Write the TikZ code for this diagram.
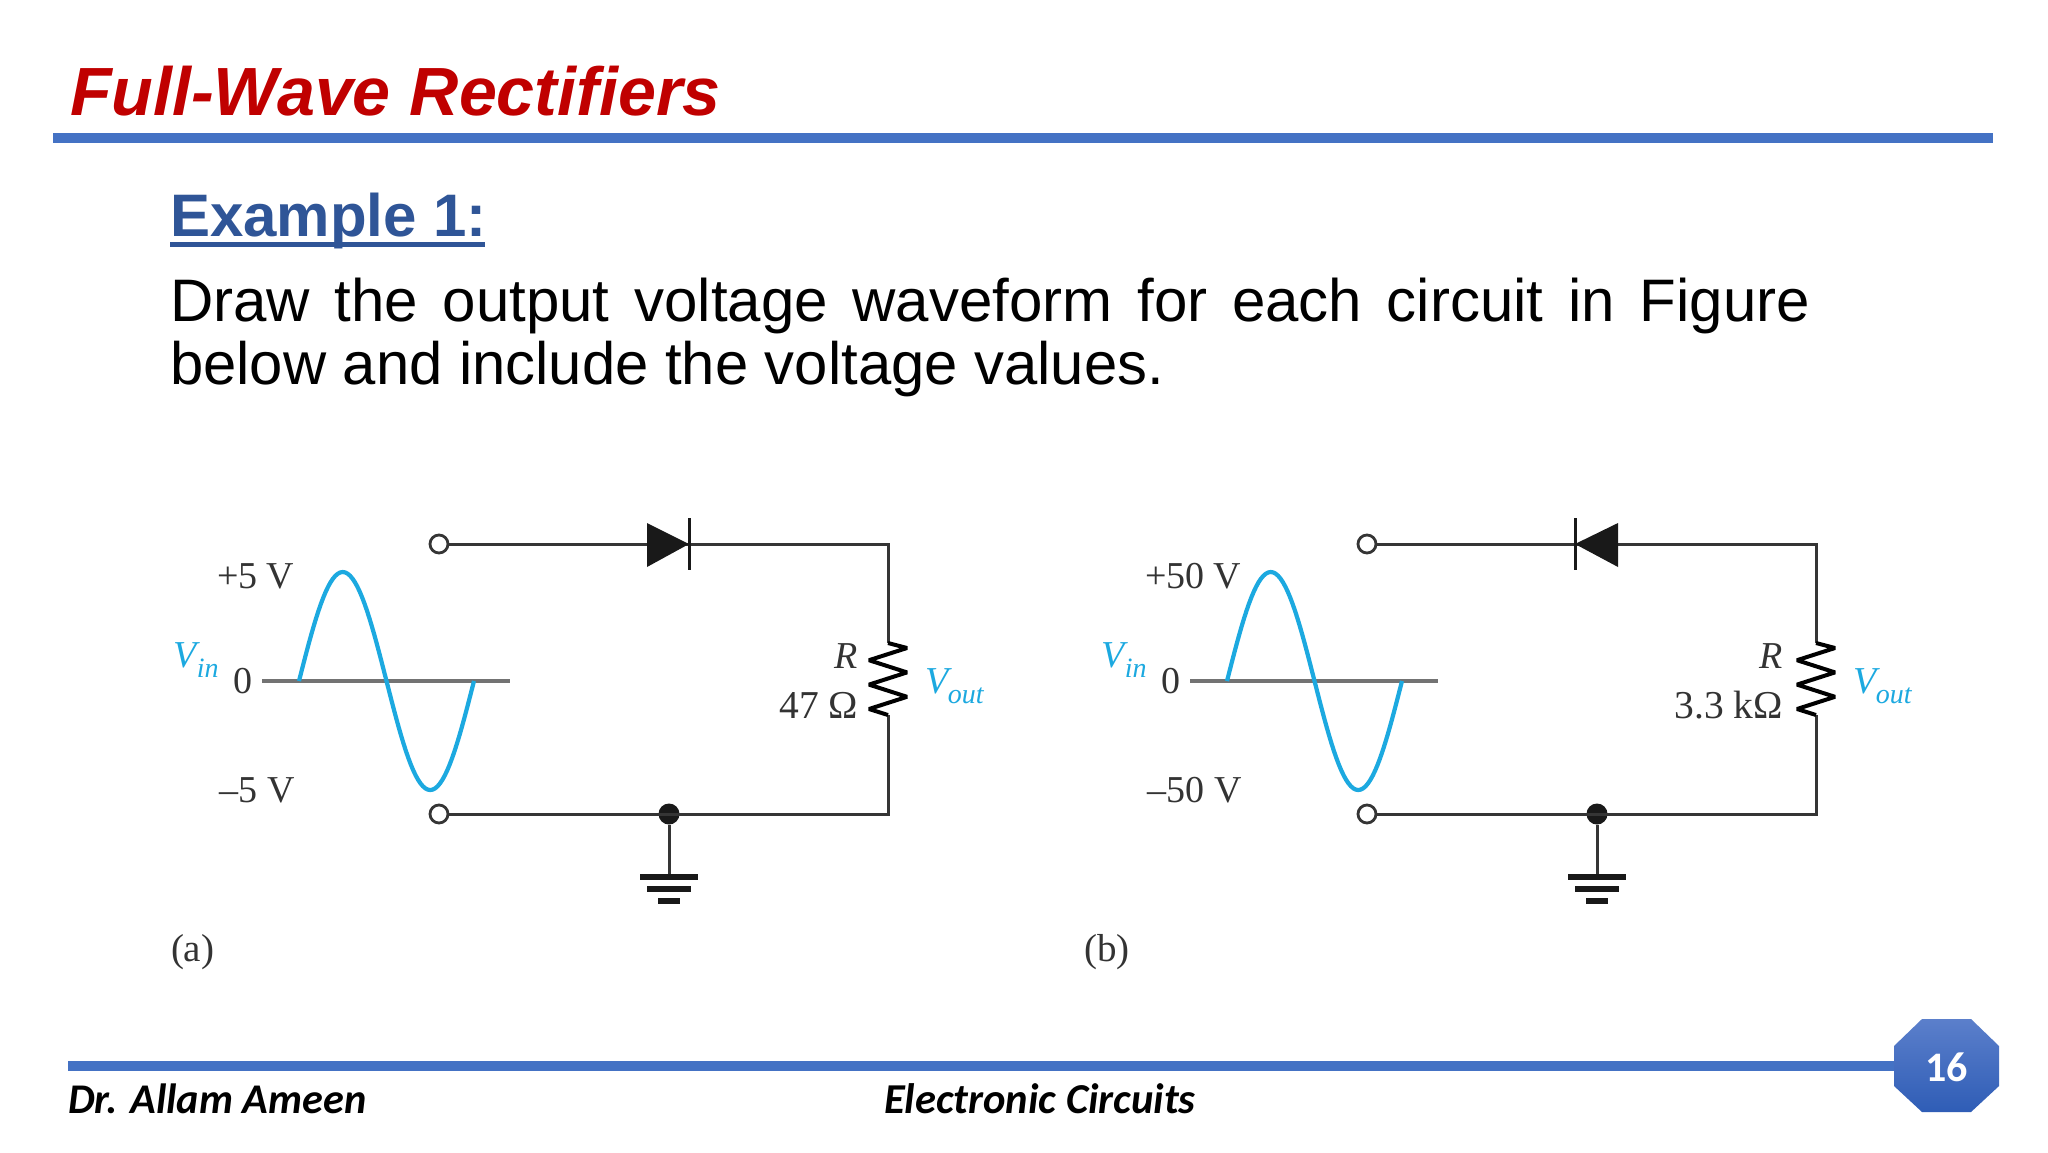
\documentclass[tikz,border=0pt]{standalone}
\usepackage{fontspec}
\setmainfont{Liberation Sans}
\newfontfamily\timesf{Liberation Serif}
\newfontfamily\carl{Carlito}
\usetikzlibrary{calc}
\definecolor{rulebl}{HTML}{4472C4}
\definecolor{titlered}{HTML}{C00000}
\definecolor{exbl}{HTML}{2F5597}
\definecolor{wavecy}{HTML}{1CA9E0}
\definecolor{wirec}{HTML}{353535}
\definecolor{octtop}{HTML}{5B7FCB}
\definecolor{octbot}{HTML}{2F5DB6}
\newcommand\fsz[1]{\fontsize{#1pt}{#1pt}\selectfont}
\tikzset{
  lab/.style={inner sep=0pt,outer sep=0pt,anchor=base west},
  labr/.style={inner sep=0pt,outer sep=0pt,anchor=base east},
  circ/.style={font=\timesf\fsz{38},text=black!80},
  vlab/.style={font=\timesf\fsz{38},text=wavecy},
  wire/.style={draw=wirec,line width=3pt,line join=miter},
  term/.style={circle,draw=wirec,fill=white,line width=2.8pt,minimum size=18pt,inner sep=0pt},
  dotj/.style={circle,fill=black!90,minimum size=21pt,inner sep=0pt},
  wave/.style={draw=wavecy,line width=4.2pt,line join=round},
  axisl/.style={draw=black!55,line width=4pt},
  plate/.style={draw=black!90,line width=6pt},
}
% prefix, shift, triangle base x, bar x, +label, -label, value, value right x
\newcommand\ckt[8]{%
\begin{scope}[shift={(#2,0)}]
  \node[term] (#1top) at (439,544) {};
  \node[term] (#1bot) at (439,814) {};
  \coordinate (#1tr) at (888,544);
  \coordinate (#1br) at (888,814);
  \coordinate (#1rt) at (888,643);
  \coordinate (#1rb) at (888,715);
  \coordinate (#1gnd) at (669,877);
  \node[dotj] (#1dot) at (669,814) {};
  \draw[wire] (#1top) -- (#1tr) -- (#1rt);
  \draw[wire] (#1bot) -- (#1br) -- (#1rb);
  \draw[wire] (#1dot) -- (#1gnd);
  \fill[black!90] (#3,523) -- (#4,544) -- (#3,567) -- cycle;
  \draw[black!90,line width=3pt] (#4,518) -- (#4,570);
  \draw[black,line width=4pt,line join=bevel] (#1rt) -- ++(19,5) -- ++(-38,12.2) -- ++(38,12.2) -- ++(-38,12.2) -- ++(38,12.2) -- ++(-38,12.2) -- (#1rb);
  \draw[plate] ($(#1gnd)+(-29,0)$) -- ($(#1gnd)+(29,0)$);
  \draw[plate] ($(#1gnd)+(-22,12)$) -- ($(#1gnd)+(22,12)$);
  \draw[plate] ($(#1gnd)+(-11,24)$) -- ($(#1gnd)+(11,24)$);
  \draw[axisl] (262,681) -- (510,681);
  \draw[wave] plot[domain=0:360,samples=73] ({299+\x/360*175},{681-109*sin(\x)});
  \node[lab,circ] (#1hi) at (217,588) {#5};
  \node[lab,circ] (#1lo) at (219.5,802) {#6};
  \node[lab,circ] (#1zero) at (233,693) {0};
  \node[lab,vlab] (#1vin) at (173,667) {\textit{V}\kern-3pt\raisebox{-10pt}{\fsz{28}\textit{in}}};
  \node[lab,vlab] (#1vout) at (925,693) {\textit{V}\kern-4pt\raisebox{-10pt}{\fsz{28}\textit{out}}};
  \node[labr,circ] (#1r) at (#8,668) {\textit{R}};
  \node[labr,circ,font=\timesf\fsz{39.5}] (#1val) at (#8,718) {#7};
\end{scope}}
\begin{document}
\begin{tikzpicture}[x=1pt,y=-1pt]
\useasboundingbox[fill=white] (0,0) rectangle (2048,1152);
% header
\node[lab,font=\bfseries\itshape\fsz{68.2},text=titlered] (title) at (70,115) {Full-Wave Rectifiers};
\fill[rulebl] (53,133) rectangle (1993,143);
\node[lab,font=\bfseries\fsz{60},text=exbl] (ex) at (170,236) {Example 1:};
\fill[exbl] (169.5,242) rectangle (485,247);
\node[lab,font=\fsz{60},text=black] (body) at (170,321) {\makebox[1640pt][s]{Draw the output voltage waveform for each circuit in Figure}};
\node[lab,font=\fsz{59.8},text=black] (body2) at (170,384) {below and include the voltage values.};
% circuits
\ckt{a}{0}{647}{689}{+5 V}{–5 V}{47 Ω}{858}
\ckt{b}{928}{690}{647}{+50 V}{–50 V}{3.3 kΩ}{855}
\node[lab,circ,font=\timesf\fsz{39}] (capa) at (171,961) {(a)};
\node[lab,circ,font=\timesf\fsz{39}] (capb) at (1084,961) {(b)};
% footer
\fill[rulebl] (68,1061) rectangle (1900,1071);
\shade[top color=octtop,bottom color=octbot] (1922,1019) -- (1971,1019) -- (1999,1046) -- (1999,1086) -- (1971,1112) -- (1922,1112) -- (1894,1086) -- (1894,1046) -- cycle;
\node[font=\carl\bfseries\fsz{42},text=white,inner sep=0pt] (page) at (1946.5,1067) {16};
\node[lab,font=\carl\bfseries\itshape\fsz{42.3},text=black] (auth) at (68,1113) {Dr. Allam Ameen};
\node[lab,font=\carl\bfseries\itshape\fsz{42.6},text=black] (course) at (884,1113) {Electronic Circuits};
\end{tikzpicture}
\end{document}
